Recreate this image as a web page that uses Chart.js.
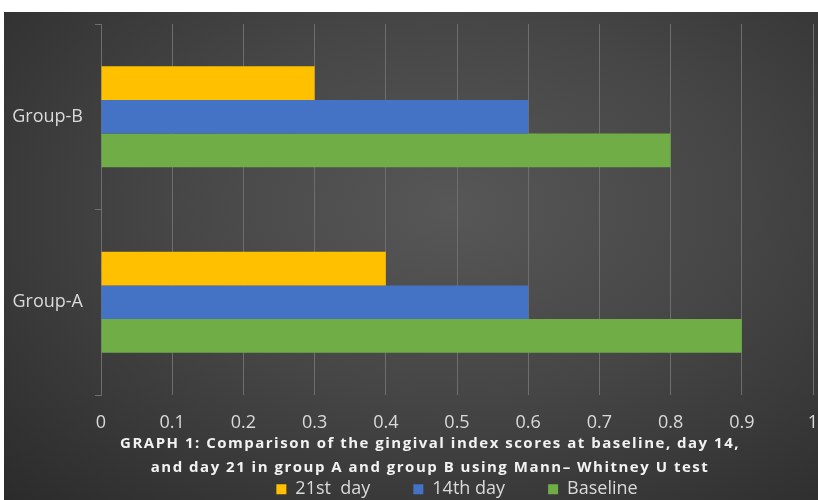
<!DOCTYPE html>
<html>
<head>
<meta charset="utf-8">
<script src="https://cdn.jsdelivr.net/npm/chart.js@4.4.1/dist/chart.umd.min.js"></script>
<style>
  html, body { margin: 0; padding: 0; background: #fff; }
  #wrap {
    position: absolute; left: 4px; top: 12px; width: 814px; height: 488px;
    background: radial-gradient(ellipse at 55% 40%, #575757 0%, #464646 45%, #2b2b2b 100%);
  }
</style>
</head>
<body>
<div id="wrap"><canvas id="chart" width="814" height="488"></canvas></div>
<script>
const groups = ["Group-B", "Group-A"];
const day21 = [0.3, 0.4];
const day14 = [0.6, 0.6];
const baseline = [0.8, 0.9];
const xTicks = [0, 0.1, 0.2, 0.3, 0.4, 0.5, 0.6, 0.7, 0.8, 0.9, 1];
const captionLines = [
  "GRAPH 1: Comparison of the gingival index scores at baseline, day 14,",
  "and day 21 in group A and group B using Mann\u2013 Whitney U test"
];

const tickFont = { family: "'Open Sans', sans-serif", size: 18 };
const textColor = "#dadada";
const gridColor = "#6e6e6e";
const legendPad = 43;

// caption drawn under the x tick labels
const captionPlugin = {
  id: "caption",
  afterDraw(chart) {
    const ctx = chart.ctx;
    const top = chart.scales.x.top;
    ctx.save();
    ctx.font = "bold 15px 'Open Sans', sans-serif";
    ctx.letterSpacing = "1.5px";
    ctx.fillStyle = "#f2f2f2";
    ctx.textAlign = "center";
    ctx.textBaseline = "middle";
    ctx.fillText(captionLines[0], 426, top + 49);
    ctx.fillText(captionLines[1], 426, top + 73);
    ctx.restore();
  }
};

new Chart(document.getElementById("chart"), {
  type: "bar",
  data: {
    labels: groups,
    datasets: [
      { label: "21st  day", data: day21, backgroundColor: "#FFC000" },
      { label: "14th day", data: day14, backgroundColor: "#4472C4" },
      { label: "Baseline", data: baseline, backgroundColor: "#70AD47" }
    ]
  },
  options: {
    indexAxis: "y",
    responsive: false,
    animation: false,
    layout: { padding: { top: 12, right: 5, left: 0, bottom: 0 } },
    datasets: { bar: { categoryPercentage: 0.545, barPercentage: 1 } },
    scales: {
      x: {
        min: 0,
        max: 1,
        afterBuildTicks(scale) {
          scale.ticks = xTicks.map((v) => ({ value: v }));
        },
        afterFit(scale) {
          scale.height = 488 - 383 - (legendPad + 19.8);
          scale.paddingLeft = 0;
          scale.paddingRight = 0;
        },
        grid: { color: gridColor, drawTicks: false },
        border: { display: false },
        ticks: {
          color: textColor,
          font: tickFont,
          padding: 17,
          callback: (v) => String(v)
        }
      },
      y: {
        afterFit(scale) {
          scale.width = 97;
          scale.paddingTop = 0;
          scale.paddingBottom = 0;
        },
        grid: { color: gridColor, drawOnChartArea: false, tickLength: 6 },
        border: { color: gridColor },
        ticks: { color: textColor, font: tickFont, padding: 12 }
      }
    },
    plugins: {
      legend: {
        position: "bottom",
        fullSize: false,
        maxHeight: legendPad + 19.8,
        labels: {
          color: textColor,
          font: tickFont,
          boxWidth: 10,
          boxHeight: 10,
          padding: legendPad
        }
      },
      tooltip: { enabled: false }
    }
  },
  plugins: [captionPlugin]
});
</script>
</body>
</html>
